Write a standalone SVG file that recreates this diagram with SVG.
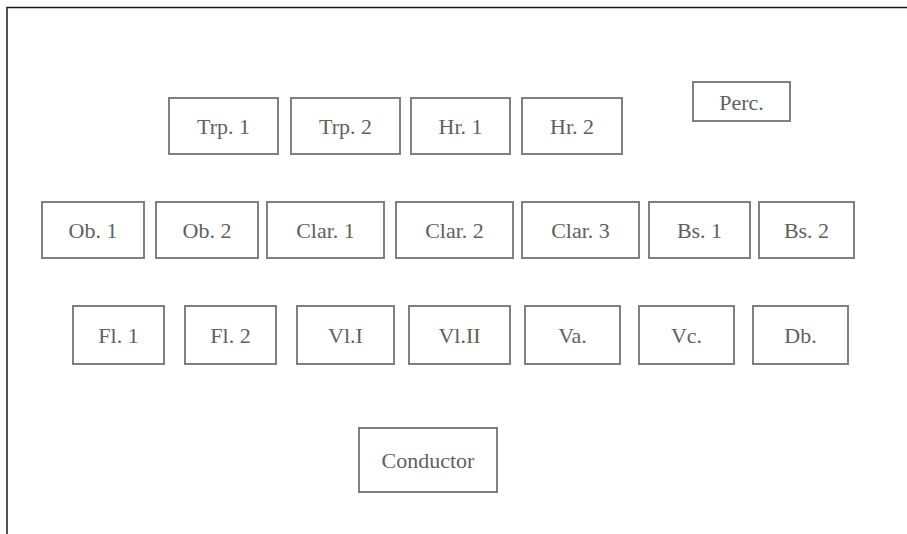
<svg xmlns="http://www.w3.org/2000/svg" width="907" height="534" viewBox="0 0 907 534">
<style>
.frame{fill:none;stroke:#1a1a1a;stroke-width:1.5}
.box{fill:#ffffff;stroke:#808080;stroke-width:2}
.lbl{font-family:'Liberation Serif','Times New Roman',serif;font-size:22px;fill:#606060;text-anchor:middle}
</style>
<rect width="907" height="534" fill="#ffffff"/>
<g id="frame"><path class="frame" d="M7,534 V7.5 H907"/></g>
<g id="connectors"></g>
<g id="trp1"><rect class="box" x="169" y="98" width="109" height="56"/><text class="lbl" x="223.5" y="134">Trp. 1</text></g>
<g id="trp2"><rect class="box" x="291" y="98" width="109" height="56"/><text class="lbl" x="345.5" y="134">Trp. 2</text></g>
<g id="hr1"><rect class="box" x="411" y="98" width="99" height="56"/><text class="lbl" x="460.5" y="134">Hr. 1</text></g>
<g id="hr2"><rect class="box" x="522" y="98" width="100" height="56"/><text class="lbl" x="572" y="134">Hr. 2</text></g>
<g id="perc"><rect class="box" x="693" y="82" width="97" height="39"/><text class="lbl" x="741.5" y="109.5">Perc.</text></g>
<g id="ob1"><rect class="box" x="42" y="202" width="102" height="56"/><text class="lbl" x="93" y="238">Ob. 1</text></g>
<g id="ob2"><rect class="box" x="156" y="202" width="102" height="56"/><text class="lbl" x="207" y="238">Ob. 2</text></g>
<g id="clar1"><rect class="box" x="267" y="202" width="117" height="56"/><text class="lbl" x="325.5" y="238">Clar. 1</text></g>
<g id="clar2"><rect class="box" x="396" y="202" width="117" height="56"/><text class="lbl" x="454.5" y="238">Clar. 2</text></g>
<g id="clar3"><rect class="box" x="522" y="202" width="117" height="56"/><text class="lbl" x="580.5" y="238">Clar. 3</text></g>
<g id="bs1"><rect class="box" x="649" y="202" width="101" height="56"/><text class="lbl" x="699.5" y="238">Bs. 1</text></g>
<g id="bs2"><rect class="box" x="759" y="202" width="95" height="56"/><text class="lbl" x="806.5" y="238">Bs. 2</text></g>
<g id="fl1"><rect class="box" x="73" y="306" width="91" height="58"/><text class="lbl" x="118.5" y="343">Fl. 1</text></g>
<g id="fl2"><rect class="box" x="185" y="306" width="91" height="58"/><text class="lbl" x="230.5" y="343">Fl. 2</text></g>
<g id="vl1"><rect class="box" x="297" y="306" width="97" height="58"/><text class="lbl" x="345.5" y="343">Vl.I</text></g>
<g id="vl2"><rect class="box" x="409" y="306" width="101" height="58"/><text class="lbl" x="459.5" y="343">Vl.II</text></g>
<g id="va"><rect class="box" x="525" y="306" width="95" height="58"/><text class="lbl" x="572.5" y="343">Va.</text></g>
<g id="vc"><rect class="box" x="639" y="306" width="95" height="58"/><text class="lbl" x="686.5" y="343">Vc.</text></g>
<g id="db"><rect class="box" x="753" y="306" width="95" height="58"/><text class="lbl" x="800.5" y="343">Db.</text></g>
<g id="conductor"><rect class="box" x="359" y="428" width="138" height="64"/><text class="lbl" x="428" y="468">Conductor</text></g>
</svg>
